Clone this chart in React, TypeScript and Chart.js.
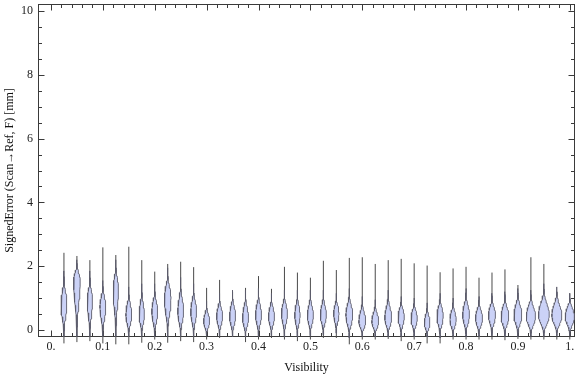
import React, { useEffect, useRef } from 'react';
import { Chart, registerables } from 'chart.js';

Chart.register(...registerables);

// Visibility bins (violin centers)
const positions = [
  0.025, 0.05, 0.075, 0.1, 0.125, 0.15, 0.175, 0.2, 0.225, 0.25,
  0.275, 0.3, 0.325, 0.35, 0.375, 0.4, 0.425, 0.45, 0.475, 0.5,
  0.525, 0.55, 0.575, 0.6, 0.625, 0.65, 0.675, 0.7, 0.725, 0.75,
  0.775, 0.8, 0.825, 0.85, 0.875, 0.9, 0.925, 0.95, 0.975, 1.0,
];

// Whisker extremes (mm)
const maxValues = [
  2.42, 2.32, 2.19, 2.59, 2.35, 2.61, 2.19, 1.83, 2.07, 2.14,
  1.97, 1.32, 1.57, 1.2, 1.32, 1.69, 1.29, 1.98, 1.8, 1.64,
  2.17, 1.88, 2.26, 2.28, 2.07, 2.19, 2.23, 2.09, 2.02, 1.81,
  1.93, 1.98, 1.64, 1.8, 1.9, 1.41, 2.28, 2.07, 1.18, 1.15,
];
const minValues = [
  -0.42, -0.38, -0.35, -0.42, -0.45, -0.45, -0.4, -0.3, -0.4, -0.35,
  -0.38, -0.3, -0.25, -0.22, -0.38, -0.3, -0.25, -0.3, -0.35, -0.3,
  -0.25, -0.25, -0.45, -0.3, -0.3, -0.28, -0.35, -0.3, -0.42, -0.42,
  -0.3, -0.3, -0.3, -0.3, -0.32, -0.28, -0.3, -0.3, -0.3, -0.3,
];

// Density body extent (mm)
const bodyLow = [
  -0.2, -0.2, -0.2, -0.2, -0.2, -0.2, -0.2, -0.2, -0.2, -0.2,
  -0.2, -0.18, -0.18, -0.2, -0.22, -0.2, -0.18, -0.2, -0.2, -0.18,
  -0.15, -0.1, -0.25, -0.2, -0.2, -0.2, -0.2, -0.2, -0.22, -0.25,
  -0.2, -0.2, -0.2, -0.18, -0.2, -0.2, -0.2, -0.2, -0.18, -0.18,
];
const bodyHigh = [
  1.85, 2.2, 1.85, 1.55, 2.2, 1.35, 1.45, 1.45, 1.95, 1.65,
  1.45, 0.9, 1.15, 1.25, 1.25, 1.3, 1.15, 1.25, 1.25, 1.25,
  1.25, 1.15, 1.3, 1.05, 0.95, 1.25, 1.05, 1.0, 0.85, 1.15,
  1.0, 1.3, 1.05, 1.15, 1.2, 1.3, 1.25, 1.45, 1.35, 1.15,
];
// Value with the highest density (mm)
const modeValues = [
  0.8, 1.55, 0.9, 0.73, 1.3, 0.47, 0.47, 0.57, 1.0, 0.57,
  0.57, 0.26, 0.42, 0.42, 0.37, 0.47, 0.42, 0.52, 0.47, 0.45,
  0.47, 0.52, 0.47, 0.26, 0.26, 0.37, 0.42, 0.37, 0.22, 0.45,
  0.32, 0.47, 0.37, 0.47, 0.42, 0.47, 0.42, 0.47, 0.45, 0.42,
];
// Peak density (relative units)
const peakDensity = [
  2.9, 3.3, 2.6, 2.9, 2.6, 2.9, 2.6, 2.9, 3.3, 2.9,
  2.9, 3.0, 3.0, 3.0, 3.0, 3.0, 3.0, 3.0, 2.7, 3.0,
  3.0, 2.7, 3.4, 3.4, 3.4, 3.4, 3.1, 3.1, 2.8, 3.1,
  3.1, 3.4, 3.5, 3.5, 3.8, 3.9, 4.6, 5.4, 5.0, 4.6,
];

const xTickValues = [0, 0.1, 0.2, 0.3, 0.4, 0.5, 0.6, 0.7, 0.8, 0.9, 1.0];
const xTickLabels = ['0.', '0.1', '0.2', '0.3', '0.4', '0.5', '0.6', '0.7', '0.8', '0.9', '1.'];
const yTickValues = [0, 2, 4, 6, 8, 10];
const yTickLabels = ['0', '2', '4', '6', '8', '10'];

const xTitle = 'Visibility';
const yTitle = 'SignedError (Scan\u2192Ref, F) [mm]';

const DENSITY_TO_X = 1 / 519;
const FONT = '"Liberation Serif", "Times New Roman", serif';

function buildBody(i: number) {
  const c = positions[i];
  const lo = bodyLow[i];
  const hi = bodyHigh[i];
  const m = modeValues[i];
  const hw = peakDensity[i] * DENSITY_TO_X;
  const N = 18;
  const right: { x: number; y: number }[] = [];
  for (let j = 0; j <= N; j++) {
    const t = j / N;
    const y = lo + (m - lo) * t;
    const w = hw * Math.pow((1 - Math.cos(Math.PI * t)) / 2, 1.2);
    right.push({ x: c + w, y });
  }
  for (let j = 1; j <= N; j++) {
    const t = j / N;
    const y = m + (hi - m) * t;
    const w = hw * Math.pow((1 + Math.cos(Math.PI * t)) / 2, 1.6);
    right.push({ x: c + w, y });
  }
  const left = right
    .slice(0, right.length - 1)
    .reverse()
    .map((p) => ({ x: 2 * c - p.x, y: p.y }));
  return right.concat(left);
}

const framePlugin = {
  id: 'mmaFrame',
  beforeDatasetsDraw(chart: any) {
    const { ctx, chartArea: a, scales } = chart;
    const xs = scales.x;
    const ys = scales.y;
    ctx.save();
    ctx.strokeStyle = '#3a3a3a';
    ctx.lineWidth = 1;
    const L = Math.round(a.left) + 0.5;
    const R = Math.round(a.right) - 0.5;
    const T = Math.round(a.top) + 0.5;
    const B = Math.round(a.bottom) - 0.5;
    ctx.strokeRect(L, T, R - L, B - T);
    ctx.beginPath();
    for (let k = 0; k <= 50; k++) {
      const v = k / 50;
      const major = k % 5 === 0;
      const len = major ? 6 : 3.5;
      const px = Math.round(xs.getPixelForValue(v)) + 0.5;
      ctx.moveTo(px, B);
      ctx.lineTo(px, B - len);
      ctx.moveTo(px, T);
      ctx.lineTo(px, T + len);
    }
    for (let k = 0; k <= 20; k++) {
      const v = k / 2;
      const major = k % 4 === 0;
      const len = major ? 6 : 3.5;
      const py = Math.round(ys.getPixelForValue(v)) + 0.5;
      ctx.moveTo(L, py);
      ctx.lineTo(L + len, py);
      ctx.moveTo(R, py);
      ctx.lineTo(R - len, py);
    }
    ctx.stroke();
    ctx.restore();
  },
};

export default function App() {
  const ref = useRef<HTMLCanvasElement>(null);
  useEffect(() => {
    const canvas = ref.current;
    if (!canvas) return;
    const bodies = positions.map((_, i) => ({
      type: 'line' as const,
      data: buildBody(i),
      fill: 'shape',
      backgroundColor: 'rgb(203,210,247)',
      borderColor: '#5c5c6c',
      borderWidth: 0.9,
      pointRadius: 0,
      pointHoverRadius: 0,
      tension: 0,
      clip: false as any,
    }));
    const whiskers = positions.map((x, i) => ({
      type: 'line' as const,
      data: [
        { x, y: minValues[i] },
        { x, y: maxValues[i] },
      ],
      fill: false,
      borderColor: '#4a4a4a',
      borderWidth: 1,
      pointRadius: 0,
      pointHoverRadius: 0,
      clip: false as any,
    }));
    const chart = new Chart(canvas, {
      type: 'line',
      data: { datasets: [...bodies, ...whiskers] as any },
      plugins: [framePlugin],
      options: {
        animation: false,
        responsive: false,
        maintainAspectRatio: false,
        layout: { padding: { top: 4, right: 1, left: 0, bottom: 0 } },
        plugins: { legend: { display: false }, tooltip: { enabled: false } },
        scales: {
          x: {
            type: 'linear',
            min: -0.025,
            max: 1.01,
            grid: { display: false, drawTicks: false },
            border: { display: false },
            afterBuildTicks: (s: any) => {
              s.ticks = xTickValues.map((v) => ({ value: v }));
            },
            afterFit: (s: any) => {
              s.height = 40;
              s.paddingLeft = 0;
              s.paddingRight = 0;
            },
            ticks: {
              autoSkip: false,
              maxRotation: 0,
              padding: 3,
              color: '#222',
              font: { family: FONT, size: 12 },
              callback: (_v: any, idx: number) => xTickLabels[idx],
            },
            title: {
              display: true,
              text: xTitle,
              color: '#111',
              font: { family: FONT, size: 12 },
              padding: { top: 0, bottom: 2 },
            },
          },
          y: {
            type: 'linear',
            min: -0.22,
            max: 10.22,
            grid: { display: false, drawTicks: false },
            border: { display: false },
            afterBuildTicks: (s: any) => {
              s.ticks = yTickValues.map((v) => ({ value: v }));
            },
            afterFit: (s: any) => {
              s.width = 38;
              s.paddingTop = 0;
              s.paddingBottom = 0;
            },
            ticks: {
              autoSkip: false,
              padding: 5,
              color: '#222',
              font: { family: FONT, size: 12 },
              callback: (_v: any, idx: number) => yTickLabels[idx],
            },
            title: {
              display: true,
              text: yTitle,
              color: '#111',
              font: { family: FONT, size: 12 },
              padding: { top: 3, bottom: 0 },
            },
          },
        },
      },
    });
    return () => chart.destroy();
  }, []);
  return (
    <div style={{ position: 'fixed', left: 0, top: 0, width: 576, height: 377, background: '#fff' }}>
      <canvas ref={ref} width={576} height={377} style={{ display: 'block', width: 576, height: 377 }} />
    </div>
  );
}
